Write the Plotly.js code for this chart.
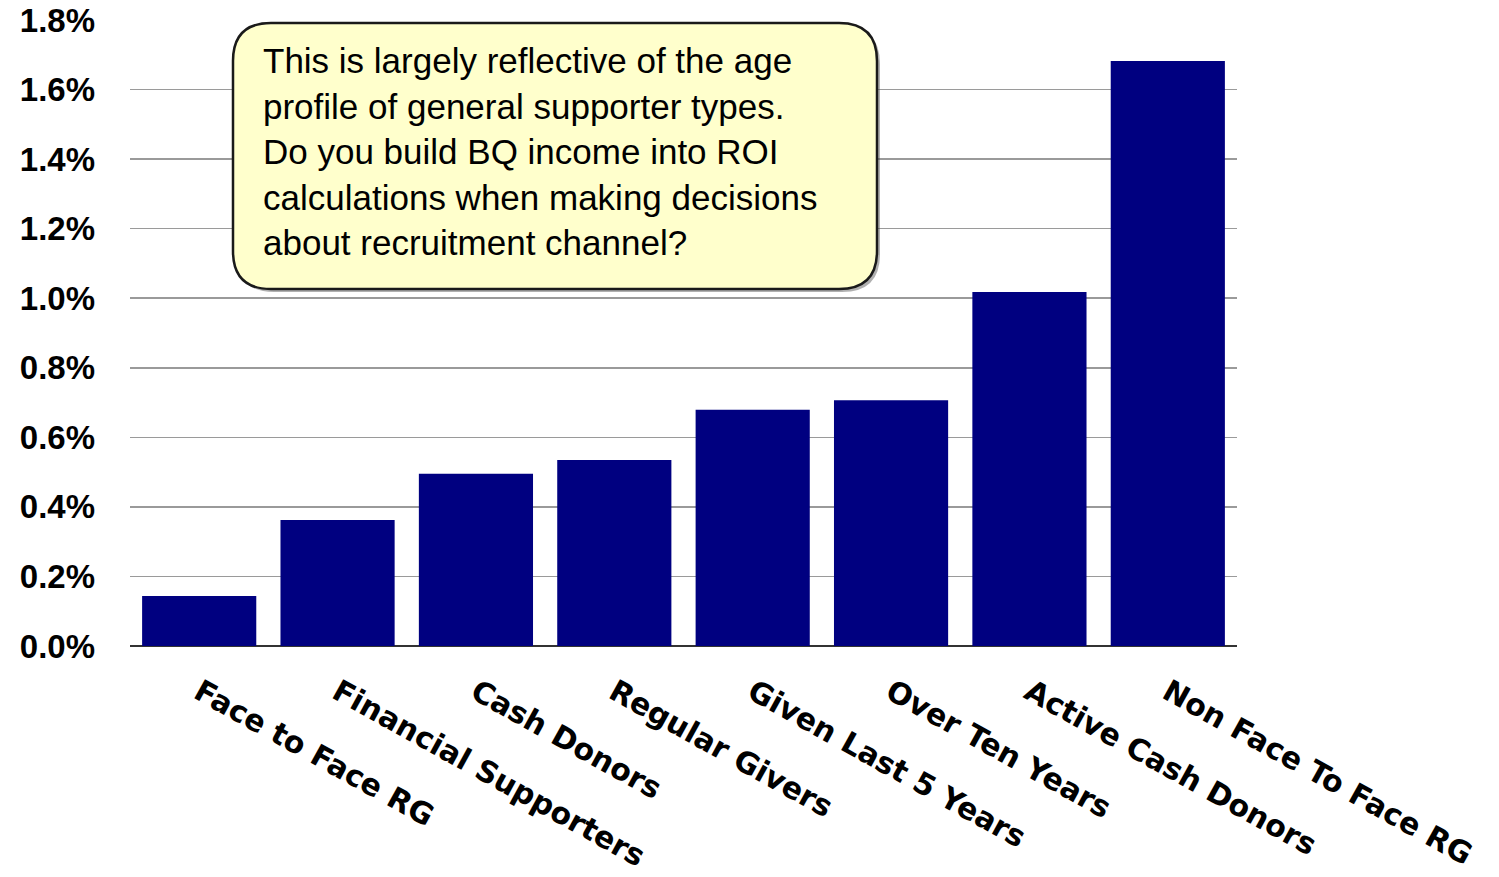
<!DOCTYPE html>
<html>
<head>
<meta charset="utf-8">
<script src="https://cdn.plot.ly/plotly-3.0.1.min.js"></script>
<style>html,body{margin:0;padding:0;background:#fff;}#chart{width:1499px;height:877px;}</style>
</head>
<body>
<div id="chart"></div>
<script>
const categories = ["Face to Face RG","Financial Supporters","Cash Donors","Regular Givers","Given Last 5 Years","Over Ten Years","Active Cash Donors","Non Face To Face RG"];
const values = [0.144, 0.362, 0.495, 0.535, 0.679, 0.707, 1.018, 1.682];
const yTickValues = [0,0.2,0.4,0.6,0.8,1.0,1.2,1.4,1.6,1.8];
const yTickLabels = ["0.0%","0.2%","0.4%","0.6%","0.8%","1.0%","1.2%","1.4%","1.6%","1.8%"];
const noteText = "This is largely reflective of the age<br>profile of general supporter types.<br>Do you build BQ income into ROI<br>calculations when making decisions<br>about recruitment channel?";

// layout geometry in pixels
const W = 1499, H = 877;
const mL = 130, mR = 262, mT = 20, mB = 231;
const pw = W - mL - mR, ph = H - mT - mB;
const px = x => (x - mL) / pw;
const py = y => (H - mB - y) / ph;

// rounded box
const bx0 = 233, bx1 = 877, by0 = 23, by1 = 289, r = 38;
function P(x, y){ return px(x) + ',' + py(y); }
function roundRect(dx, dy){
  const x0 = bx0 + dx, x1 = bx1 + dx, y0 = by0 + dy, y1 = by1 + dy;
  return 'M ' + P(x0 + r, y0) + ' L ' + P(x1 - r, y0) + ' Q ' + P(x1, y0) + ' ' + P(x1, y0 + r) +
    ' L ' + P(x1, y1 - r) + ' Q ' + P(x1, y1) + ' ' + P(x1 - r, y1) +
    ' L ' + P(x0 + r, y1) + ' Q ' + P(x0, y1) + ' ' + P(x0, y1 - r) +
    ' L ' + P(x0, y0 + r) + ' Q ' + P(x0, y0) + ' ' + P(x0 + r, y0) + ' Z';
}

const trace = {
  type: 'bar',
  x: categories,
  y: values,
  marker: {color: '#000080', line: {width: 0}},
  hoverinfo: 'x+y'
};

const layout = {
  width: W, height: H,
  margin: {l: mL, r: mR, t: mT, b: mB, pad: 0},
  paper_bgcolor: '#ffffff',
  plot_bgcolor: '#ffffff',
  showlegend: false,
  bargap: 0.175,
  xaxis: {
    type: 'category',
    tickangle: 29,
    tickfont: {family: 'DejaVu Sans, Verdana, sans-serif', size: 30, color: '#000', weight: 'bold'},
    showgrid: false,
    showline: false,
    ticks: '',
    ticklabelstandoff: 22,
    zeroline: false
  },
  yaxis: {
    range: [0, 1.8001],
    tickmode: 'array',
    tickvals: yTickValues,
    ticktext: yTickLabels,
    tickfont: {family: 'Liberation Sans, Arial, sans-serif', size: 33, color: '#000', weight: 'bold'},
    showgrid: true,
    gridcolor: '#9a9a9a',
    gridwidth: 1.5,
    zeroline: true,
    zerolinecolor: '#333333',
    zerolinewidth: 2.5,
    showline: false,
    ticks: '',
    ticklabelstandoff: 34
  },
  shapes: [
    {type: 'path', xref: 'paper', yref: 'paper', path: roundRect(3, 3), fillcolor: 'rgba(80,80,80,0.45)', line: {width: 0}, layer: 'above'},
    {type: 'path', xref: 'paper', yref: 'paper', path: roundRect(0, 0), fillcolor: '#FFFFCC', line: {color: '#1a1a1a', width: 2.5}, layer: 'above'}
  ],
  annotations: [
    {
      xref: 'paper', yref: 'paper',
      x: px(261), y: py(152),
      xanchor: 'left', yanchor: 'middle',
      align: 'left',
      showarrow: false,
      text: noteText,
      font: {family: 'Liberation Sans, Arial, sans-serif', size: 35, color: '#000'}
    }
  ]
};

Plotly.newPlot('chart', [trace], layout, {displayModeBar: false, staticPlot: true});
</script>
</body>
</html>
